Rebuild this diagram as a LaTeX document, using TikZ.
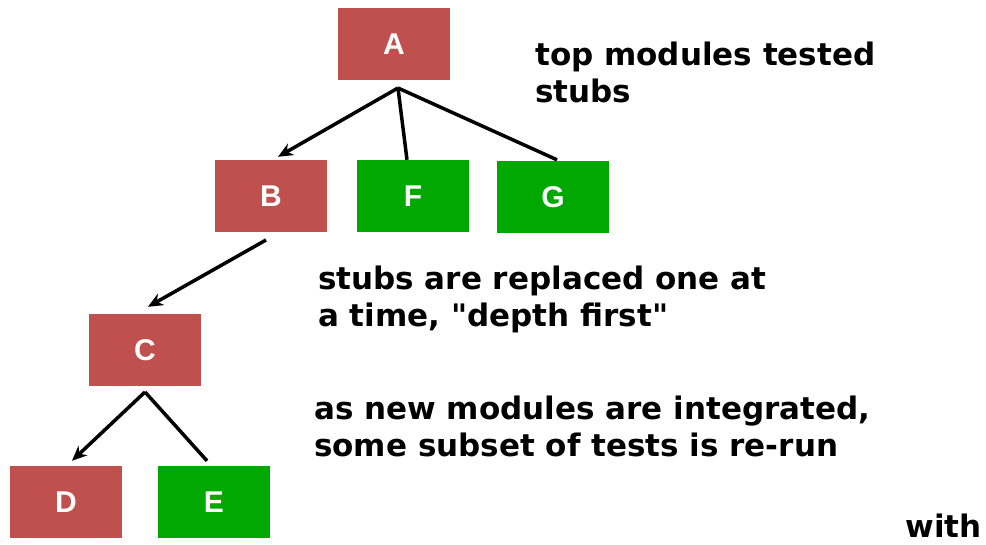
\documentclass[tikz,border=0pt]{standalone}
\usepackage{fontspec}
\setmainfont{Liberation Sans}
\newfontfamily\notefont{DejaVu Sans}
\usetikzlibrary{positioning,arrows.meta}
\definecolor{modred}{RGB}{192,80,77}
\definecolor{modgreen}{RGB}{0,168,0}
\tikzset{
  modR/.style={rectangle,fill=modred,minimum width=112pt,minimum height=72pt,inner sep=0pt,
    text=white,font=\fontsize{30}{30}\selectfont\bfseries},
  modG/.style={modR,fill=modgreen},
  hrana/.style={line width=3.5pt},
  sip/.style={hrana,-{Stealth[length=15pt,width=13pt]}},
  popis/.style={align=left,anchor=north west,inner sep=0pt,
    font=\notefont\fontsize{31}{37}\selectfont\bfseries},
}
\begin{document}
\begin{tikzpicture}[x=1pt,y=-1pt]
  \useasboundingbox (0,0) rectangle (986,544);
  % modules
  \node[modR] (a) at (394,44) {A};
  \node[modR] (b) at (271,196) {B};
  \node[modG] (f) at (413,196) {F};
  \node[modG] (g) at (553,197) {G};
  \node[modR] (c) at (145,350) {C};
  \node[modR] (d) at (66,502) {D};
  \node[modG] (e) at (214,502) {E};
  \coordinate (a0) at (398,88);
  \coordinate (b0) at (266,240);
  \coordinate (c0) at (145,392);
  % connectors
  \draw[sip] (a0) -- ([xshift=7pt,yshift=3pt]b.north);
  \draw[hrana] (a0) -- ([xshift=-6pt]f.north);
  \draw[hrana] (a0) -- ([xshift=4pt,yshift=1pt]g.north);
  \draw[sip] (b0) -- ([xshift=3pt,yshift=7pt]c.north);
  \draw[sip] (c0) -- ([xshift=6pt,yshift=5pt]d.north);
  \draw[hrana] (c0) -- ([xshift=-7pt,yshift=5pt]e.north);
  % notes
  \node[popis] (n1) at (535,42) {top modules tested\\stubs};
  \node[popis] (n2) at (318,266) {stubs are replaced one at\\a time, \char34 depth first\char34};
  \node[popis] (n3) at (314,396) {as new modules are integrated,\\some subset of tests is re-run};
  \node[popis,anchor=south east] (n4) at (982,538) {with};
\end{tikzpicture}
\end{document}
